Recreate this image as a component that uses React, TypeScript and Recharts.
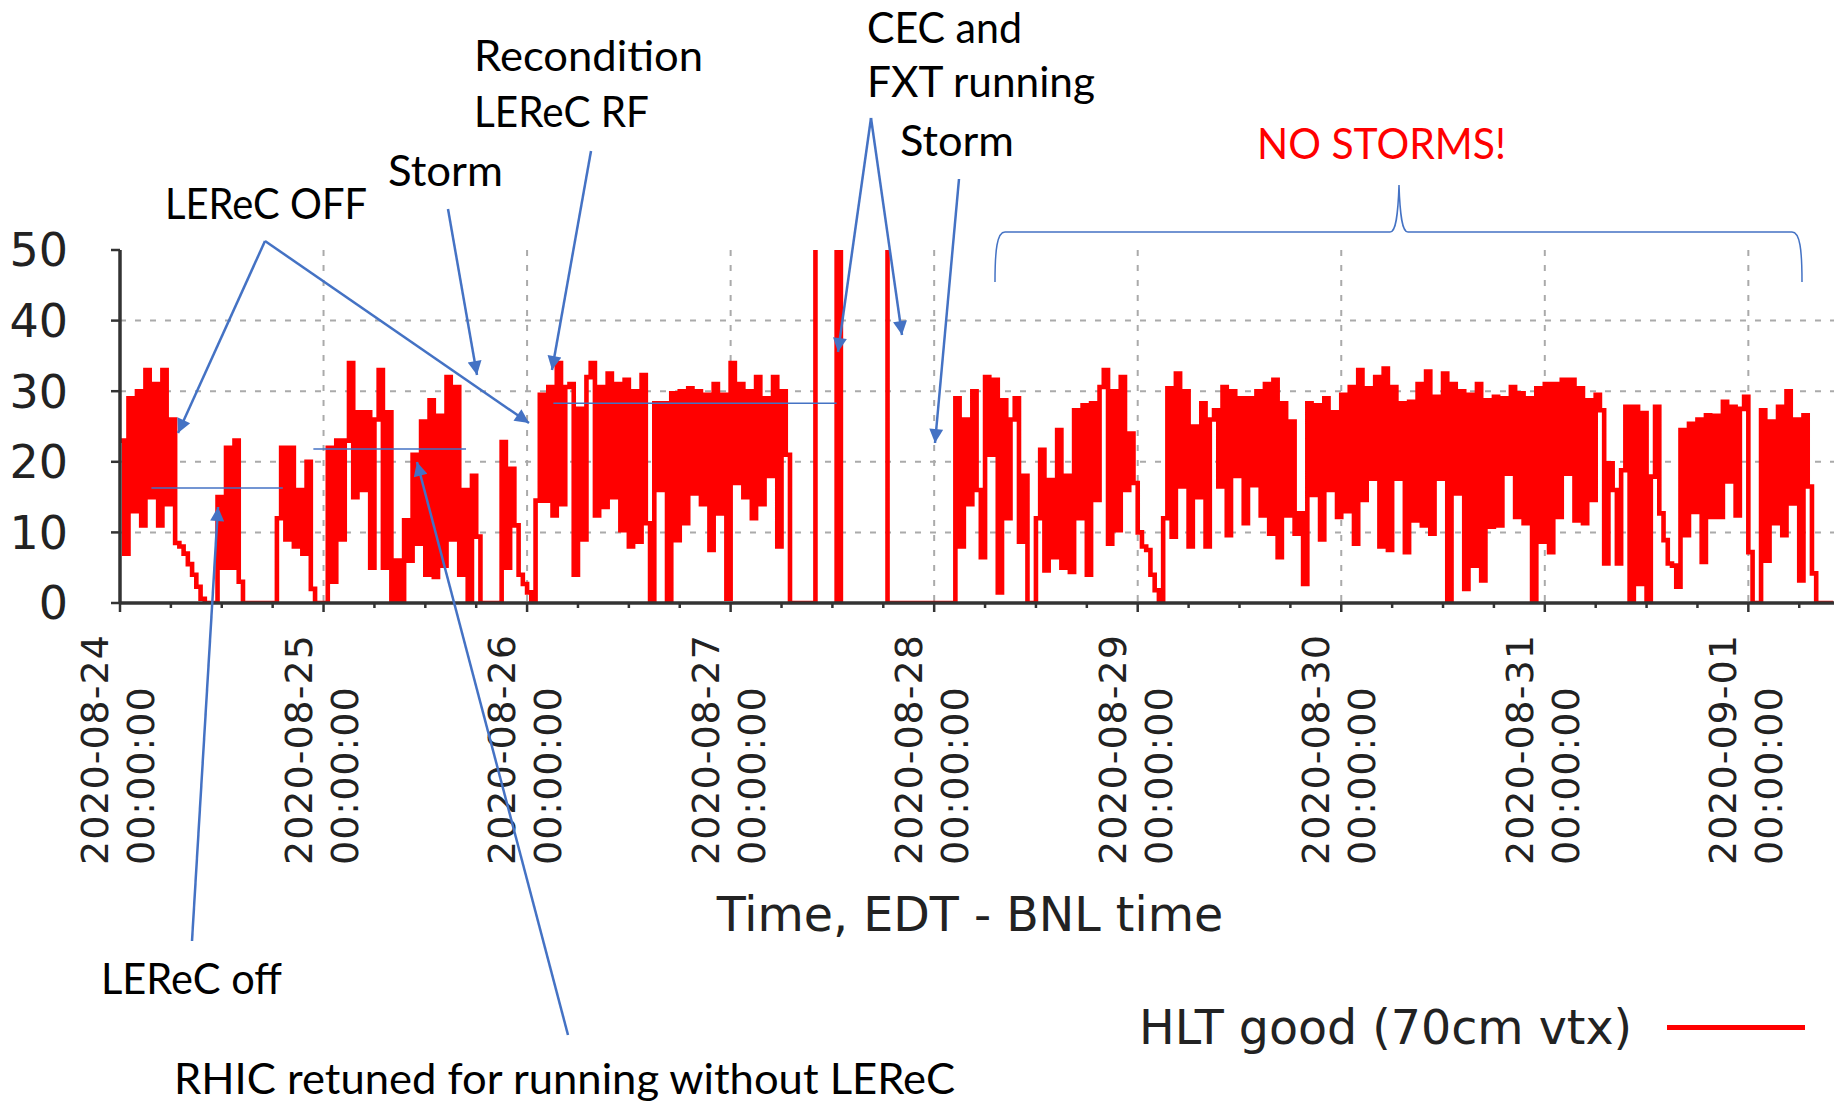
import React from 'react';
import { LineChart, Line, XAxis, YAxis, CartesianGrid, ReferenceLine, Legend, Label } from 'recharts';

// HLT good (70cm vtx), one reading every 30 min, EDT, starting at each day's 00:00
const aug24 = [23, 7, 29, 13, 30, 11, 33, 15, 31, 11, 33, 14, 26, 8.5, 8, 7, 5.5, 4, 2.3, 0.6, 0, 0, 0, 15, 5, 22, 5, 23, 3, 0, 0, 0, 0, 0, 0, 0, 0, 12, 22, 9, 22, 8, 16, 7, 20, 2, 0, 0];
const aug25 = [0, 22, 3, 23, 9, 23, 34, 15, 27, 16, 27, 5, 26, 33, 5, 27, 0, 6, 0, 11.7, 6, 21, 8.4, 25.7, 4, 28.7, 3.7, 26.5, 5.3, 32, 9, 30.6, 4, 16, 0, 18, 9.4, 0, 0, 0, 0, 0, 22.8, 5, 19, 11, 4, 2.7];
const aug26 = [1.5, 0, 14.5, 29.5, 14.5, 30.6, 12.4, 34, 14, 30.6, 31, 4, 27.5, 9, 32, 34, 12.4, 30.6, 13.6, 32.5, 15, 31, 10.3, 31.6, 8, 30, 8.7, 32.3, 11.3, 0, 28.3, 16, 28.3, 0, 29.7, 8.9, 30, 11.3, 30.4, 15.5, 30, 14, 29.5, 7.5, 31, 12.7, 29.5, 0.6];
// values above 50 are off scale (clipped at the top of the frame)
const aug27 = [34, 17, 31, 15, 30, 12, 32, 14, 29, 18, 32, 8, 30, 21, 0, 0, 0, 0, 0, 0, 60, 60, 60, 60, 60, 0, 60, 60, 60, 60, 60, 60, 60, 60, 60, 60, 60, 0, 0, 0, 0, 0, 0, 0, 0, 0, 0, 0];
const aug28 = [0, 0, 0, 0, 0, 29, 8, 26, 14, 30, 16, 6.5, 32, 21, 31.6, 1.5, 28.7, 12, 26, 29, 8.7, 18, 0, 0, 12, 21.7, 4.6, 17.4, 6.5, 24.5, 5, 18, 4.4, 27.3, 12, 28, 4, 28.3, 14.6, 30.6, 33, 8.4, 30, 10.3, 32, 16, 24, 17];
const aug29 = [10, 8, 7.5, 4, 1.8, 0, 12, 30.4, 9.4, 32.5, 16.5, 30, 8, 25, 15, 28.3, 8, 26, 27.3, 16.5, 30.6, 9.6, 30, 18, 29, 11.3, 29, 16.7, 30, 12.4, 31, 9.8, 31.6, 6.5, 28.3, 12.4, 25.7, 9.8, 12.7, 2.7, 28.3, 15.3, 28, 9, 29, 16, 27, 12.2];
const aug30 = [29.5, 13, 30.6, 8.4, 33, 14.6, 30.4, 17.6, 32, 8, 33.2, 7.5, 30.6, 17.6, 28.3, 7.2, 28.5, 11.7, 31, 11, 32.8, 9.8, 29.2, 17.6, 32.5, 0, 31, 15.5, 30, 2, 29.5, 5.3, 31, 3.2, 28.7, 10.8, 29.2, 11, 29, 18.3, 30.6, 12.2, 29.7, 11.3, 29, 0, 30.4, 8.7];
const aug31 = [31, 7.2, 31, 12.2, 31.6, 18.3, 31.6, 11.7, 30.4, 11.3, 28.7, 14.6, 29.5, 27.3, 5.6, 19.8, 16, 5.6, 18.8, 27.8, 0, 27.8, 2.7, 26.9, 0, 17.9, 27.8, 12.7, 8.9, 5.6, 5.3, 2.3, 24.5, 9.6, 25.4, 12.9, 26, 5.8, 26.6, 12.2, 26.5, 12.2, 28.5, 17.2, 27.8, 12.4, 27.5, 29.2];
const sep01 = [7.2, 0, 0, 27.3, 6, 25.7, 11.3, 27.8, 9.6, 30, 14.1, 26, 3.2, 26.6, 16.5, 4.2, 0, 0, 0, 0, 0];

const days = [aug24, aug25, aug26, aug27, aug28, aug29, aug30, aug31, sep01];
const dayLabels = ['2020-08-24', '2020-08-25', '2020-08-26', '2020-08-27', '2020-08-28', '2020-08-29', '2020-08-30', '2020-08-31', '2020-09-01'];
const yTicks = [0, 10, 20, 30, 40, 50];
const X_END = 202.1; // hours after 08-24 00:00

// hand-drawn average levels (blue) from the slide
const meanLevels = [
  { from: 3.7, to: 19.2, level: 16.3 },
  { from: 22.8, to: 40.8, level: 21.8 },
  { from: 51.1, to: 84.5, level: 28.3 },
];

const data = days.flatMap((vals, d) => vals.map((v, i) => ({ h: d * 24 + i * 0.5, rate: v })));
const dayTicks = dayLabels.map((_, d) => d * 24);
const sixHourTicks = dayLabels.flatMap((_, d) => [0, 6, 12, 18].map(o => d * 24 + o)).filter(t => t <= X_END);

const AXIS = '#333';
const BLUE = '#4472C4';

const TimeTick = (props: any) => {
  const { x, y, payload } = props;
  const v = payload.value;
  const major = v % 24 === 0;
  return (
    <g>
      <line x1={x} x2={x} y1={y} y2={y + (major ? 9 : 5)} stroke={AXIS} strokeWidth={2.5} />
      {major && (
        <g fontFamily="DejaVu Sans" fontSize={38} fill="#222" letterSpacing={1}>
          <text transform={`translate(${x - 12}, ${y + 262}) rotate(-90)`}>{dayLabels[v / 24]}</text>
          <text transform={`translate(${x + 34}, ${y + 262}) rotate(-90)`}>00:00:00</text>
        </g>
      )}
    </g>
  );
};

const AxisTitle = (props: any) => {
  const { x, y, width } = props.viewBox;
  return (
    <text x={x + width / 2 - 7} y={y + 328} textAnchor="middle" fontFamily="DejaVu Sans" fontSize={47.5} fill="#222">
      Time, EDT - BNL time
    </text>
  );
};

const LegendContent = () => (
  <div style={{ display: 'flex', alignItems: 'center', fontFamily: 'DejaVu Sans', fontSize: 47.5, color: '#222', whiteSpace: 'nowrap' }}>
    <span>HLT good (70cm vtx)</span>
    <span style={{ display: 'inline-block', width: 138, height: 5, background: '#ff0000', marginLeft: 35 }} />
  </div>
);

// slide call-outs drawn over the chart
const arrows = [
  [265, 241, 178, 433],
  [265, 241, 529, 423],
  [448, 209, 477, 375],
  [591, 151, 552, 370],
  [871, 118, 838, 352],
  [871, 118, 902, 335],
  [959, 179, 935, 443],
  [192, 941, 218, 507],
  [568, 1035, 417, 462],
];
const notes = [
  { t: 'LEReC OFF', x: 165, y: 219, w: 202, c: '#000' },
  { t: 'Storm', x: 388, y: 186, w: 115, c: '#000' },
  { t: 'Recondition', x: 474, y: 71, w: 229, c: '#000' },
  { t: 'LEReC RF', x: 474, y: 127, w: 175, c: '#000' },
  { t: 'CEC and', x: 867, y: 43, w: 155, c: '#000' },
  { t: 'FXT running', x: 867, y: 97, w: 228, c: '#000' },
  { t: 'Storm', x: 900, y: 156, w: 114, c: '#000' },
  { t: 'NO STORMS!', x: 1257, y: 159, w: 249, c: '#ff0000' },
  { t: 'LEReC off', x: 101, y: 994, w: 181, c: '#000' },
  { t: 'RHIC retuned for running without LEReC', x: 174, y: 1094, w: 781, c: '#000' },
];

const Callouts = () => (
  <svg width={1845} height={1102} style={{ position: 'absolute', left: 0, top: 0, pointerEvents: 'none' }}>
    <defs>
      <marker id="head" viewBox="0 0 10 10" refX="10" refY="5" markerUnits="userSpaceOnUse" markerWidth="18" markerHeight="14" orient="auto">
        <path d="M0,0 L10,5 L0,10 z" fill={BLUE} />
      </marker>
    </defs>
    {arrows.map(([x1, y1, x2, y2], i) => (
      <line key={i} x1={x1} y1={y1} x2={x2} y2={y2} stroke={BLUE} strokeWidth={2.5} markerEnd="url(#head)" />
    ))}
    <path
      d="M995,282 C995,250 997,232 1005,232 L1390,232 C1396,232 1398,215 1399,185 C1400,215 1402,232 1408,232 L1792,232 C1800,232 1802,250 1802,282"
      fill="none" stroke={BLUE} strokeWidth={1.5}
    />
    {notes.map((n, i) => (
      <text key={i} x={n.x} y={n.y} fontFamily="Lato" fontSize={42} fill={n.c} textLength={n.w} lengthAdjust="spacingAndGlyphs">
        {n.t}
      </text>
    ))}
  </svg>
);

export default function App() {
  return (
    <div style={{ position: 'absolute', left: 0, top: 0, width: 1845, height: 1102, background: '#fff', overflow: 'hidden' }}>
      <LineChart width={1845} height={1102} data={data} margin={{ top: 250, right: 11, bottom: 199, left: 10 }}>
        <CartesianGrid
          xAxisId="time" yAxisId="left"
          stroke="#aaa" strokeWidth={2} strokeDasharray="6 9"
          verticalValues={dayTicks} horizontalValues={[10, 20, 30, 40]}
        />
        <XAxis
          xAxisId="time" dataKey="h" type="number" domain={[0, X_END]} allowDataOverflow
          ticks={sixHourTicks} interval={0} height={300}
          tickSize={0} tickMargin={0} tickLine={false} tick={<TimeTick />}
          axisLine={{ stroke: AXIS, strokeWidth: 3.5 }}
        >
          <Label content={AxisTitle} />
        </XAxis>
        <XAxis
          xAxisId="top" orientation="top" type="number" domain={[0, X_END]} height={0}
          tick={false} tickLine={false} axisLine={{ stroke: AXIS, strokeWidth: 3.5 }}
        />
        <YAxis
          yAxisId="left" domain={[0, 50]} ticks={yTicks} allowDataOverflow width={110}
          tickSize={9} tickMargin={43} tick={{ fontSize: 46, fontFamily: 'DejaVu Sans', fill: '#222' }}
          tickLine={{ stroke: AXIS, strokeWidth: 2.5 }} axisLine={{ stroke: AXIS, strokeWidth: 3.5 }}
        />
        <YAxis
          yAxisId="right" orientation="right" domain={[0, 50]} ticks={yTicks} width={0}
          tickSize={9} tick={false} tickLine={{ stroke: AXIS, strokeWidth: 2.5 }} axisLine={{ stroke: AXIS, strokeWidth: 3.5 }}
        />
        <Line
          xAxisId="time" yAxisId="left" type="stepAfter" dataKey="rate" name="HLT good (70cm vtx)"
          stroke="#ff0000" strokeWidth={4.6} dot={false} isAnimationActive={false}
        />
        {meanLevels.map((m, i) => (
          <ReferenceLine
            key={i} xAxisId="time" yAxisId="left" stroke={BLUE} strokeWidth={1.5}
            segment={[{ x: m.from, y: m.level }, { x: m.to, y: m.level }]}
          />
        ))}
        <Legend
          layout="horizontal" verticalAlign="middle" align="center"
          content={LegendContent} wrapperStyle={{ left: 1139, top: 1000, width: 720 }}
        />
      </LineChart>
      <Callouts />
    </div>
  );
}
